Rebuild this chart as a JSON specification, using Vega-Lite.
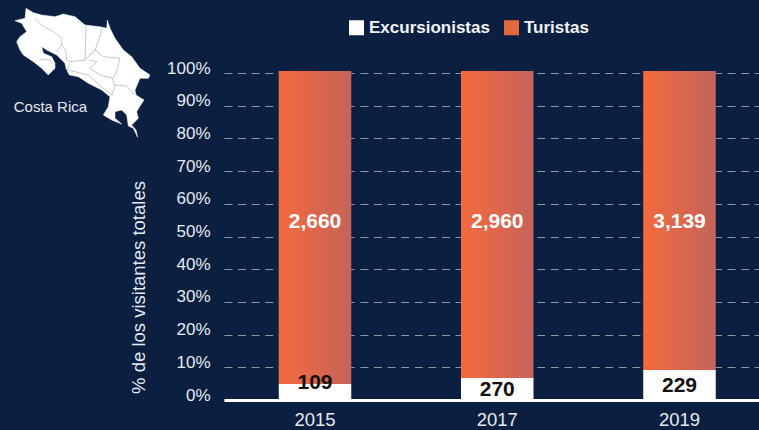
{"$schema":"https://vega.github.io/schema/vega-lite/v6.json","width":539,"height":327,"autosize":"none","padding":{"left":220,"top":73,"right":0,"bottom":30},"background":"#0B1F41","view":{"stroke":null},"config":{"font":"Liberation Sans"},"datasets":{"visitas":[{"anio":"2015","tipo":"Excursionistas","pct":4.9,"visitantes":109,"etiqueta_pct":5.2},{"anio":"2015","tipo":"Turistas","pct":95.7,"visitantes":2660,"etiqueta_pct":54.4},{"anio":"2017","tipo":"Excursionistas","pct":6.7,"visitantes":270,"etiqueta_pct":3.1},{"anio":"2017","tipo":"Turistas","pct":93.9,"visitantes":2960,"etiqueta_pct":54.4},{"anio":"2019","tipo":"Excursionistas","pct":9.2,"visitantes":229,"etiqueta_pct":4.3},{"anio":"2019","tipo":"Turistas","pct":91.4,"visitantes":3139,"etiqueta_pct":54.4}],"pais":[{"type":"Feature","properties":{"nombre":"Costa Rica"},"geometry":{"type":"Polygon","coordinates":[[[-85.65,11.212],[-85.467,11.103],[-85.258,11.045],[-84.925,11.003],[-84.717,11.07],[-84.425,11.003],[-84.175,10.795],[-83.8,10.753],[-83.633,10.712],[-83.617,10.92],[-83.55,10.712],[-83.425,10.462],[-83.217,10.17],[-83.008,10.003],[-82.8,9.712],[-82.55,9.545],[-82.592,9.462],[-82.8,9.462],[-82.925,9.17],[-82.9,9.045],[-82.7,8.92],[-82.8,8.77],[-82.883,8.628],[-82.842,8.462],[-83.008,8.295],[-82.9,8.17],[-82.858,7.987],[-82.967,8.212],[-83.092,8.27],[-83.133,8.545],[-83.258,8.67],[-83.425,8.628],[-83.425,8.462],[-83.258,8.32],[-83.508,8.42],[-83.717,8.545],[-83.592,8.753],[-83.55,9.003],[-83.758,9.17],[-84.092,9.337],[-84.342,9.503],[-84.567,9.545],[-84.65,9.712],[-84.675,9.837],[-84.883,10.045],[-85.133,10.17],[-85.258,10.253],[-85.217,10.087],[-85.008,10.003],[-84.925,9.837],[-84.925,9.712],[-85.092,9.545],[-85.258,9.712],[-85.467,9.878],[-85.717,10.045],[-85.8,10.17],[-85.883,10.378],[-85.8,10.503],[-85.633,10.628],[-85.758,10.837],[-85.925,10.903],[-85.675,10.962],[-85.65,11.212]]]}}],"limites":[{"type":"Feature","properties":{"nombre":"limites"},"geometry":{"type":"MultiLineString","coordinates":[[[-85.425,10.962],[-85.258,10.795],[-84.967,10.628],[-84.758,10.462],[-84.758,10.295],[-84.883,10.128]],[[-84.758,10.295],[-84.658,10.17],[-84.633,9.92],[-84.55,9.878],[-84.175,9.92],[-84.15,10.753]],[[-84.175,9.92],[-83.925,10.17],[-83.8,10.503],[-83.758,10.712]],[[-83.925,10.17],[-83.717,10.003],[-83.3,9.962],[-83.383,9.628],[-83.483,9.462],[-83.425,9.253],[-83.508,9.045]],[[-84.05,9.92],[-83.883,9.878],[-84.05,9.712],[-83.8,9.545],[-83.483,9.462]],[[-84.55,9.837],[-84.633,9.67],[-84.425,9.628],[-84.092,9.545],[-83.717,9.212],[-83.508,9.045]],[[-83.425,9.295],[-83.133,9.27],[-82.925,9.045]],[[-85.3,9.92],[-85.092,9.937],[-84.925,9.795]]]}}],"rotulo_mapa":[{"nombre":"Costa Rica","lon":-85.04,"lat":8.745}]},"layer":[{"data":{"name":"visitas"},"mark":{"type":"bar"},"encoding":{"x":{"field":"anio","type":"nominal","scale":{"type":"band","domain":["2015","2017","2019"],"range":[3.9,550.6],"paddingInner":0.602,"paddingOuter":0.301},"axis":{"title":null,"labelAngle":0,"labelColor":"#E6E9EF","labelFontSize":18.5,"labelPadding":19,"labelBaseline":"middle","ticks":false,"domainColor":"#FFFFFF","domainWidth":3,"grid":false,"zindex":1}},"y":{"field":"pct","type":"quantitative","stack":"zero","scale":{"domain":[0,100],"nice":false},"axis":{"title":"% de los visitantes totales","titleColor":"#E6E9EF","titleFontSize":18.5,"titleFontWeight":"normal","titleAngle":270,"titleAlign":"center","titleX":-72,"titleY":214,"values":[0,10,20,30,40,50,60,70,80,90,100],"labelExpr":"datum.value + '%'","labelOverlap":false,"labelColor":"#E6E9EF","labelFontSize":17,"labelPadding":10,"labelOffset":-5,"ticks":false,"domain":false,"grid":true,"gridColor":"#8C94A6","gridDash":[8,5.6],"gridWidth":1}},"color":{"condition":{"test":"datum.tipo === 'Turistas'","value":{"gradient":"linear","x1":0,"y1":0,"x2":1,"y2":0,"stops":[{"offset":0,"color":"#F46A3E"},{"offset":1,"color":"#C4645A"}]}},"field":"tipo","type":"nominal","scale":{"domain":["Excursionistas","Turistas"],"range":["#FFFFFF","#E2683F"]},"legend":{"title":null,"orient":"none","legendX":128,"legendY":-54,"direction":"horizontal","columns":2,"symbolType":"square","symbolSize":225,"symbolStrokeWidth":0,"symbolOpacity":1,"labelColor":"#F0F2F6","labelFontSize":17,"labelFontWeight":"bold","labelOffset":4,"columnPadding":13,"encoding":{"symbols":{"update":{"fill":{"signal":"datum.value === 'Turistas' ? {gradient: 'linear', x1: 0, y1: 0, x2: 1, y2: 0, stops: [{offset: 0, color: '#F46A3E'}, {offset: 1, color: '#C4645A'}]} : '#FFFFFF'"}}}}}},"order":{"field":"tipo","sort":"ascending"}}},{"data":{"name":"visitas"},"transform":[{"filter":"datum.tipo === 'Excursionistas'"}],"mark":{"type":"text","fontWeight":"bold","fontSize":21,"color":"#140F10","baseline":"middle"},"encoding":{"x":{"field":"anio","type":"nominal"},"y":{"field":"etiqueta_pct","type":"quantitative","axis":{"title":"% de los visitantes totales","titleColor":"#E6E9EF","titleFontSize":18.5,"titleFontWeight":"normal","titleAngle":270,"titleAlign":"center","titleX":-72,"titleY":214,"values":[0,10,20,30,40,50,60,70,80,90,100],"labelExpr":"datum.value + '%'","labelOverlap":false,"labelColor":"#E6E9EF","labelFontSize":17,"labelPadding":10,"labelOffset":-5,"ticks":false,"domain":false,"grid":true,"gridColor":"#8C94A6","gridDash":[8,5.6],"gridWidth":1}},"text":{"field":"visitantes","type":"quantitative","format":",d"}}},{"data":{"name":"visitas"},"transform":[{"filter":"datum.tipo === 'Turistas'"}],"mark":{"type":"text","fontWeight":"bold","fontSize":21,"color":"#FFFFFF","baseline":"middle"},"encoding":{"x":{"field":"anio","type":"nominal"},"y":{"field":"etiqueta_pct","type":"quantitative","axis":{"title":"% de los visitantes totales","titleColor":"#E6E9EF","titleFontSize":18.5,"titleFontWeight":"normal","titleAngle":270,"titleAlign":"center","titleX":-72,"titleY":214,"values":[0,10,20,30,40,50,60,70,80,90,100],"labelExpr":"datum.value + '%'","labelOverlap":false,"labelColor":"#E6E9EF","labelFontSize":17,"labelPadding":10,"labelOffset":-5,"ticks":false,"domain":false,"grid":true,"gridColor":"#8C94A6","gridDash":[8,5.6],"gridWidth":1}},"text":{"field":"visitantes","type":"quantitative","format":",d"}}},{"data":{"name":"pais"},"mark":{"type":"geoshape","clip":false,"fill":"#FFFFFF","stroke":"#FFFFFF","strokeWidth":0.5},"projection":{"type":"equirectangular","scale":2291.83,"translate":[3232,383.8]},"encoding":{}},{"data":{"name":"limites"},"mark":{"type":"geoshape","clip":false,"filled":false,"stroke":"#A9AFBB","strokeWidth":0.7},"projection":{"type":"equirectangular","scale":2291.83,"translate":[3232,383.8]},"encoding":{}},{"data":{"name":"rotulo_mapa"},"mark":{"type":"text","clip":false,"fontSize":15,"color":"#E6E9EF","baseline":"middle"},"projection":{"type":"equirectangular","scale":2291.83,"translate":[3232,383.8]},"encoding":{"longitude":{"field":"lon","type":"quantitative"},"latitude":{"field":"lat","type":"quantitative"},"text":{"field":"nombre","type":"nominal"}}}]}
